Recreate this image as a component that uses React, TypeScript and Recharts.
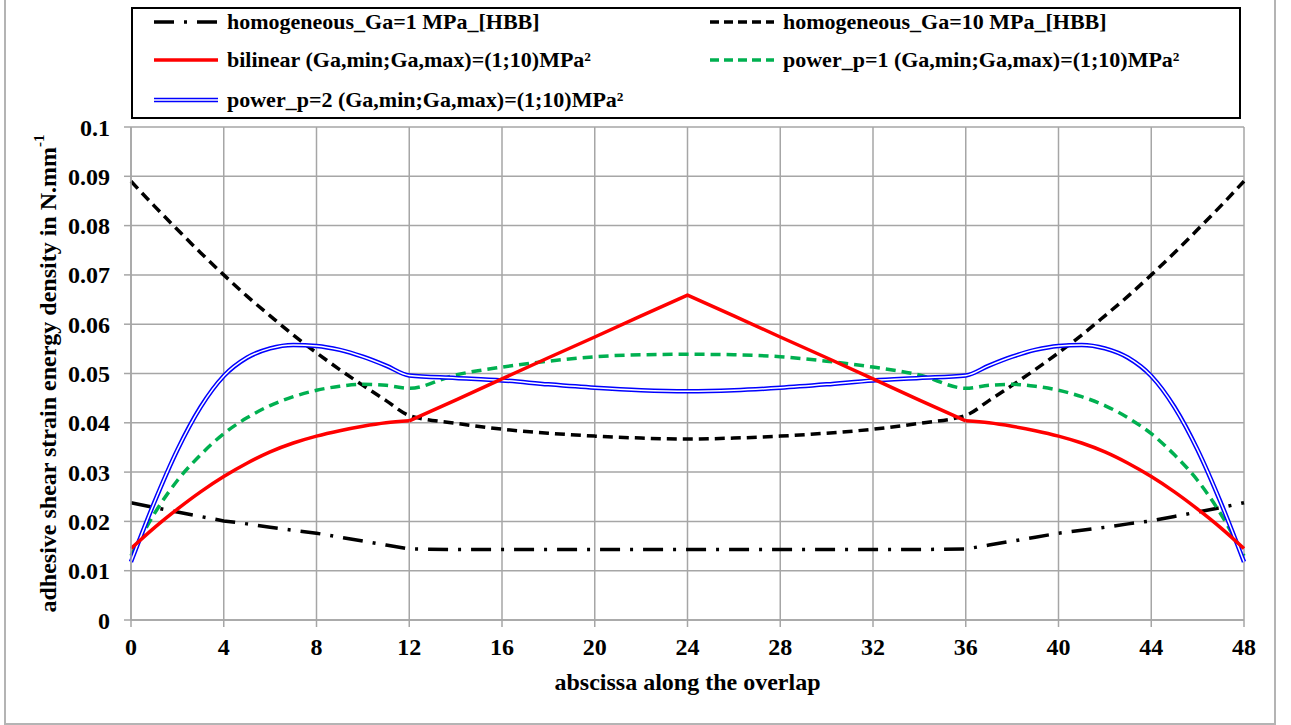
import React from 'react';
import { LineChart, Line, XAxis, YAxis, CartesianGrid, Label } from 'recharts';

// abscissa along the overlap (mm)
const abscissa = [
  0, 1, 2, 3, 4, 5, 6, 7, 8, 9, 10, 11, 12,
  14, 16, 18, 20, 22, 24, 26, 28, 30, 32, 34,
  36, 37, 38, 39, 40, 41, 42, 43, 44, 45, 46, 47, 48,
];

// strain energy density, N.mm^-1
const homogeneousGa1 = [
  0.0238, 0.0228, 0.0219, 0.021, 0.0201, 0.0195, 0.0188, 0.0182, 0.0176, 0.0168, 0.016, 0.0152, 0.0144,
  0.0143, 0.0143, 0.0143, 0.0143, 0.0143, 0.0143, 0.0143, 0.0143, 0.0143, 0.0143, 0.0143,
  0.0144, 0.0152, 0.016, 0.0168, 0.0176, 0.0182, 0.0188, 0.0195, 0.0201, 0.021, 0.0219, 0.0228, 0.0238,
];
const homogeneousGa10 = [
  0.089, 0.084, 0.0792, 0.0745, 0.07, 0.0657, 0.0617, 0.0578, 0.0542, 0.0508, 0.0476, 0.0445, 0.0415,
  0.0399, 0.0387, 0.0379, 0.0373, 0.0369, 0.0367, 0.0369, 0.0373, 0.0379, 0.0387, 0.0399,
  0.0415, 0.0445, 0.0476, 0.0508, 0.0542, 0.0578, 0.0617, 0.0657, 0.07, 0.0745, 0.0792, 0.084, 0.089,
];
const bilinear = [
  0.0145, 0.0187, 0.0225, 0.026, 0.0291, 0.0318, 0.0341, 0.0359, 0.0373, 0.0384, 0.0393, 0.04, 0.0404,
  0.0446, 0.0489, 0.0532, 0.0574, 0.0617, 0.0659, 0.0617, 0.0574, 0.0532, 0.0489, 0.0446,
  0.0404, 0.04, 0.0393, 0.0384, 0.0373, 0.0359, 0.0341, 0.0318, 0.0291, 0.026, 0.0225, 0.0187, 0.0145,
];
const powerP1 = [
  0.013, 0.0215, 0.0283, 0.0335, 0.0378, 0.041, 0.0435, 0.0453, 0.0466, 0.0474, 0.0478, 0.0476, 0.047,
  0.0497, 0.0513, 0.0525, 0.0534, 0.0538, 0.0539, 0.0538, 0.0534, 0.0525, 0.0513, 0.0497,
  0.047, 0.0476, 0.0478, 0.0474, 0.0466, 0.0453, 0.0435, 0.041, 0.0378, 0.0335, 0.0283, 0.0215, 0.013,
];
const powerP2 = [
  0.0118, 0.0238, 0.0345, 0.0432, 0.0495, 0.0532, 0.0551, 0.0558, 0.0556, 0.0548, 0.0534, 0.0516, 0.0496,
  0.0491, 0.0486, 0.0478, 0.0471, 0.0466, 0.0464, 0.0466, 0.0471, 0.0478, 0.0486, 0.0491,
  0.0496, 0.0516, 0.0534, 0.0548, 0.0556, 0.0558, 0.0551, 0.0532, 0.0495, 0.0432, 0.0345, 0.0238, 0.0118,
];

const xTicks = [0, 4, 8, 12, 16, 20, 24, 28, 32, 36, 40, 44, 48];
const yTicks = [0, 0.01, 0.02, 0.03, 0.04, 0.05, 0.06, 0.07, 0.08, 0.09, 0.1];

// the bilinear law is curved in the two end zones and straight in the central one,
// so it is drawn as two series sharing the same values
const data = abscissa.map((x, i) => ({
  x,
  ga1: homogeneousGa1[i],
  ga10: homogeneousGa10[i],
  bilinearEnds: x <= 12 || x >= 36 ? bilinear[i] : null,
  bilinearMid: x >= 12 && x <= 36 ? bilinear[i] : null,
  p1: powerP1[i],
  p2: powerP2[i],
}));

const FONT = '"Liberation Serif", "Times New Roman", Times, serif';
const GRID = '#a6a6a6';

type Swatch = { color: string; width: number; dash?: string; double?: boolean };

const legendItems: { label: string; swatch: Swatch; left: number; top: number }[] = [
  { label: 'homogeneous_Ga=1 MPa_[HBB]', swatch: { color: '#000', width: 3.5, dash: '20 10 3 10' }, left: 20, top: 5 },
  { label: 'homogeneous_Ga=10 MPa_[HBB]', swatch: { color: '#000', width: 3.5, dash: '9 5' }, left: 576, top: 5 },
  { label: 'bilinear (Ga,min;Ga,max)=(1;10)MPa²', swatch: { color: '#ff0000', width: 3.5 }, left: 20, top: 43 },
  { label: 'power_p=1 (Ga,min;Ga,max)=(1;10)MPa²', swatch: { color: '#00b050', width: 3.5, dash: '9 5' }, left: 576, top: 43 },
  { label: 'power_p=2 (Ga,min;Ga,max)=(1;10)MPa²', swatch: { color: '#0000ff', width: 4.5, double: true }, left: 20, top: 83 },
];

const SwatchLine = ({ s }: { s: Swatch }) => (
  <svg width={66} height={16} style={{ display: 'block' }}>
    <line x1={1} y1={8} x2={65} y2={8} stroke={s.color} strokeWidth={s.width} strokeDasharray={s.dash} />
    {s.double && <line x1={1} y1={8} x2={65} y2={8} stroke="#fff" strokeWidth={1.5} />}
  </svg>
);

const ChartLegend = () => (
  <div
    style={{
      position: 'absolute',
      left: 131,
      top: 7,
      width: 1106,
      height: 108,
      border: '2px solid #000',
      background: '#fff',
      fontFamily: FONT,
      fontWeight: 'bold',
      fontSize: 22,
      color: '#000',
    }}
  >
    {legendItems.map((item) => (
      <div
        key={item.label}
        style={{ position: 'absolute', left: item.left, top: item.top, display: 'flex', alignItems: 'center', gap: 8, whiteSpace: 'nowrap', lineHeight: '16px' }}
      >
        <SwatchLine s={item.swatch} />
        <span>{item.label}</span>
      </div>
    ))}
  </div>
);

const YTitle = (props: any) => {
  const vb = props.viewBox || { x: 0, y: 127, width: 131, height: 493 };
  const cx = 48;
  const cy = vb.y + vb.height / 2;
  return (
    <text
      x={cx}
      y={cy}
      transform={`rotate(-90, ${cx}, ${cy})`}
      textAnchor="middle"
      dominantBaseline="central"
      fontFamily={FONT}
      fontWeight="bold"
      fontSize={24}
      fill="#000"
    >
      adhesive shear strain energy density in N.mm
      <tspan dy={-9} fontSize={15}>-1</tspan>
    </text>
  );
};

const XTitle = (props: any) => {
  const vb = props.viewBox || { x: 131, y: 620, width: 1113, height: 105 };
  return (
    <text
      x={vb.x + vb.width / 2}
      y={vb.y + 70}
      textAnchor="middle"
      fontFamily={FONT}
      fontWeight="bold"
      fontSize={24}
      fill="#000"
    >
      abscissa along the overlap
    </text>
  );
};

const tickStyle = { fontSize: 24, fontWeight: 'bold', fill: '#000', fontFamily: FONT };

const App = () => (
  <div style={{ position: 'absolute', left: 0, top: 0, width: 1291, height: 725, background: '#fff' }}>
    <div
      style={{
        position: 'absolute',
        left: 4,
        top: -2,
        width: 1268,
        height: 723,
        border: '2px solid #b4b4b4',
      }}
    />
    <LineChart
      width={1291}
      height={725}
      data={data}
      margin={{ top: 127, right: 47, bottom: 0, left: 0 }}
      style={{ position: 'absolute', left: 0, top: 0 }}
    >
      <CartesianGrid stroke={GRID} strokeWidth={1.5} />
      <XAxis
        dataKey="x"
        type="number"
        domain={[0, 48]}
        ticks={xTicks}
        interval={0}
        height={105}
        tickSize={7}
        tickMargin={11}
        tick={tickStyle}
        tickLine={{ stroke: GRID, strokeWidth: 1.5 }}
        axisLine={{ stroke: GRID, strokeWidth: 1.5 }}
      >
        <Label content={XTitle} />
      </XAxis>
      <YAxis
        type="number"
        domain={[0, 0.1]}
        ticks={yTicks}
        interval={0}
        width={131}
        allowDataOverflow
        tickSize={7}
        tickMargin={14}
        tick={tickStyle}
        tickFormatter={(v: number) => String(Number(v.toFixed(2)))}
        tickLine={{ stroke: GRID, strokeWidth: 1.5 }}
        axisLine={{ stroke: GRID, strokeWidth: 1.5 }}
      >
        <Label content={YTitle} />
      </YAxis>
      <Line
        dataKey="ga1"
        type="linear"
        stroke="#000"
        strokeWidth={3.5}
        strokeDasharray="20 10 3 10"
        dot={false}
        isAnimationActive={false}
      />
      <Line
        dataKey="ga10"
        type="monotone"
        stroke="#000"
        strokeWidth={3.5}
        strokeDasharray="10 6"
        dot={false}
        isAnimationActive={false}
      />
      <Line
        dataKey="p1"
        type="monotone"
        stroke="#00b050"
        strokeWidth={3.5}
        strokeDasharray="10 6"
        dot={false}
        isAnimationActive={false}
      />
      <Line
        dataKey="p2"
        type="monotone"
        stroke="#0000ff"
        strokeWidth={4.5}
        dot={false}
        isAnimationActive={false}
      />
      <Line
        dataKey="p2"
        type="monotone"
        stroke="#ffffff"
        strokeWidth={1.5}
        dot={false}
        legendType="none"
        isAnimationActive={false}
      />
      <Line
        dataKey="bilinearEnds"
        type="monotone"
        stroke="#ff0000"
        strokeWidth={3.5}
        dot={false}
        isAnimationActive={false}
      />
      <Line
        dataKey="bilinearMid"
        type="linear"
        stroke="#ff0000"
        strokeWidth={3.5}
        strokeLinejoin="round"
        dot={false}
        legendType="none"
        isAnimationActive={false}
      />
    </LineChart>
    <ChartLegend />
  </div>
);

export default App;
